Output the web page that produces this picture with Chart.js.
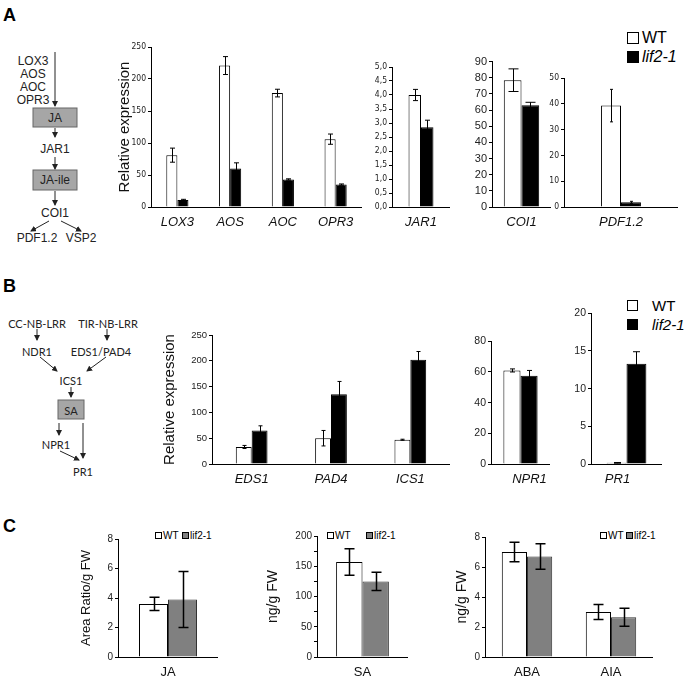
<!DOCTYPE html>
<html>
<head>
<meta charset="utf-8">
<script src="https://cdn.jsdelivr.net/npm/chart.js@4.4.0/dist/chart.umd.min.js"></script>
<style>
  body { margin: 0; width: 688px; height: 679px; background: #fff; position: relative; overflow: hidden;
         font-family: Arial, "Liberation Sans", sans-serif; color: #000; }
  .lg { position: absolute; white-space: nowrap; line-height: 1; color: #000; }
  .sq { position: absolute; box-sizing: border-box; border: 1px solid #000; }
</style>
</head>
<body>

<!-- pathway sketches and panel letters -->
<svg width="140" height="679" style="position:absolute;left:0;top:0">
  <defs>
    <marker id="ah" markerWidth="6" markerHeight="6" refX="5" refY="3" orient="auto" markerUnits="userSpaceOnUse">
      <path d="M0,0 L6,3 L0,6 z" fill="#222"/>
    </marker>
  </defs>
  <g font-family="Arial, Liberation Sans, sans-serif" font-weight="bold" font-size="18" fill="#000">
    <text x="3" y="21">A</text>
    <text x="3" y="292">B</text>
    <text x="3" y="532">C</text>
  </g>
  <!-- A: JA pathway -->
  <g font-family="Arial, Liberation Sans, sans-serif" font-size="12" fill="#222" text-anchor="middle" dominant-baseline="central">
    <text x="33" y="61">LOX3</text>
    <text x="33" y="74">AOS</text>
    <text x="33" y="87">AOC</text>
    <text x="33" y="100">OPR3</text>
    <rect x="33" y="108" width="44" height="19" fill="#a6a6a6" stroke="#666"/>
    <text x="55" y="118">JA</text>
    <text x="55" y="149">JAR1</text>
    <rect x="33" y="170" width="44" height="20" fill="#a6a6a6" stroke="#666"/>
    <text x="55" y="180">JA-ile</text>
    <text x="55" y="213">COI1</text>
    <text x="37" y="238">PDF1.2</text>
    <text x="81" y="238">VSP2</text>
  </g>
  <g stroke="#222" stroke-width="1" marker-end="url(#ah)">
    <line x1="55" y1="52" x2="55" y2="106"/>
    <line x1="55" y1="128" x2="55" y2="137"/>
    <line x1="55" y1="157" x2="55" y2="169"/>
    <line x1="55" y1="191" x2="55" y2="205"/>
    <line x1="49" y1="221" x2="31" y2="231"/>
    <line x1="61" y1="221" x2="81" y2="231"/>
  </g>
  <!-- B: SA pathway -->
  <g font-family="Lato, 'Open Sans', sans-serif" font-size="11" fill="#222" text-anchor="middle" dominant-baseline="central">
    <text x="37" y="323">CC-NB-LRR</text>
    <text x="108" y="323">TIR-NB-LRR</text>
    <text x="37" y="351">NDR1</text>
    <text x="101" y="351">EDS1/PAD4</text>
    <text x="71" y="380">ICS1</text>
    <rect x="58" y="400" width="26" height="19" fill="#a6a6a6" stroke="#666"/>
    <text x="71" y="410">SA</text>
    <text x="56" y="444">NPR1</text>
    <text x="83" y="471">PR1</text>
  </g>
  <g stroke="#222" stroke-width="1" marker-end="url(#ah)">
    <line x1="37" y1="329" x2="37" y2="340"/>
    <line x1="107" y1="329" x2="107" y2="340"/>
    <line x1="40" y1="357" x2="57" y2="371"/>
    <line x1="106" y1="357" x2="87" y2="371"/>
    <line x1="71" y1="387" x2="71" y2="397"/>
    <line x1="59" y1="423" x2="59" y2="435"/>
    <line x1="83" y1="423" x2="83" y2="458"/>
    <line x1="60" y1="451" x2="79" y2="460"/>
  </g>
</svg>

<!-- legends -->
<div class="sq" style="left:627px;top:32px;width:12px;height:12px;background:#fff"></div>
<div class="lg" style="left:642px;top:30px;font-size:16px">WT</div>
<div class="sq" style="left:627px;top:51px;width:12px;height:12px;background:#000"></div>
<div class="lg" style="left:642px;top:49px;font-size:16px;font-style:italic">lif2-1</div>

<div class="sq" style="left:627px;top:300px;width:11px;height:11px;background:#fff"></div>
<div class="lg" style="left:652px;top:298px;font-size:15px">WT</div>
<div class="sq" style="left:627px;top:319px;width:11px;height:11px;background:#000"></div>
<div class="lg" style="left:652px;top:317px;font-size:15px;font-style:italic">lif2-1</div>

<div class="sq" style="left:155px;top:532px;width:7px;height:7px;background:#fff"></div>
<div class="lg" style="left:163px;top:531px;font-size:10px">WT</div>
<div class="sq" style="left:182px;top:532px;width:7px;height:7px;background:#808080"></div>
<div class="lg" style="left:190px;top:531px;font-size:10px">lif2-1</div>

<div class="sq" style="left:327px;top:532px;width:7px;height:7px;background:#fff"></div>
<div class="lg" style="left:335px;top:531px;font-size:10px">WT</div>
<div class="sq" style="left:366px;top:532px;width:7px;height:7px;background:#808080"></div>
<div class="lg" style="left:374px;top:531px;font-size:10px">lif2-1</div>

<div class="sq" style="left:600px;top:532px;width:7px;height:7px;background:#fff"></div>
<div class="lg" style="left:608px;top:531px;font-size:10px">WT</div>
<div class="sq" style="left:626px;top:532px;width:7px;height:7px;background:#808080"></div>
<div class="lg" style="left:634px;top:531px;font-size:10px">lif2-1</div>

<script>
// ---- A: JA pathway genes (relative expression)
const aGenes = ['LOX3', 'AOS', 'AOC', 'OPR3'];
const aWT = [81, 221, 178, 106];
const aWTErr = [11, 14, 6, 8];
const aMut = [11, 60, 43, 35];
const aMutErr = [1, 9, 1, 1];

const jar1Label = ['JAR1'];
const jar1WT = [4.0], jar1WTErr = [0.2];
const jar1Mut = [2.85], jar1MutErr = [0.25];

const coi1Label = ['COI1'];
const coi1WT = [78.5], coi1WTErr = [7];
const coi1Mut = [63], coi1MutErr = [1.8];

const pdfLabel = ['PDF1.2'];
const pdfWT = [39.3], pdfWTErr = [6.3];
const pdfMut = [1.8], pdfMutErr = [0.4];

// ---- B: SA pathway genes
const bGenes = ['EDS1', 'PAD4', 'ICS1'];
const bWT = [33, 50, 47];
const bWTErr = [3, 15, 1];
const bMut = [65, 135, 202];
const bMutErr = [9, 25, 16];

const npr1Label = ['NPR1'];
const npr1WT = [61], npr1WTErr = [1];
const npr1Mut = [57.5], npr1MutErr = [3.5];

const pr1Label = ['PR1'];
const pr1WT = [0.15], pr1WTErr = [0.05];
const pr1Mut = [13.3], pr1MutErr = [1.6];

// ---- C: hormone contents
const jaLabel = ['JA'];
const jaWT = [3.6], jaWTErr = [0.45];
const jaMut = [3.9], jaMutErr = [1.9];

const saLabel = ['SA'];
const saWT = [157], saWTErr = [22];
const saMut = [125], saMutErr = [15];

const otherLabels = ['ABA', 'AIA'];
const otherWT = [7.0, 3.0], otherWTErr = [0.65, 0.5];
const otherMut = [6.7, 2.65], otherMutErr = [0.85, 0.6];

// error bars drawn on top of the bars
const errBars = {
  id: 'errBars',
  afterDatasetsDraw(chart, args, opts) {
    const ctx = chart.ctx;
    const y = chart.scales.y;
    ctx.save();
    ctx.strokeStyle = '#000';
    ctx.lineWidth = opts.width;
    chart.data.datasets.forEach((ds, i) => {
      chart.getDatasetMeta(i).data.forEach((bar, j) => {
        const e = ds.err[j];
        const v = ds.data[j];
        const x = Math.round(bar.x) + 0.5;
        const t = y.getPixelForValue(v + e);
        const b = y.getPixelForValue(Math.max(v - e, 0));
        const c = opts.cap / 2;
        ctx.beginPath();
        ctx.moveTo(x, t); ctx.lineTo(x, b);
        ctx.moveTo(x - c, t); ctx.lineTo(x + c, t);
        ctx.moveTo(x - c, b); ctx.lineTo(x + c, b);
        ctx.stroke();
      });
    });
    ctx.restore();
  }
};

const narrow = '"Liberation Sans Narrow", "DejaVu Sans Condensed", Arial, sans-serif';
const arial = 'Arial, "Liberation Sans", sans-serif';

function makeChart(c) {
  const left = c.axisX - c.yW;
  const top = c.topY - 8;
  const w = c.right - left;
  const h = c.base + c.xH - top;
  const cv = document.createElement('canvas');
  cv.width = w; cv.height = h;
  cv.style.cssText = `position:absolute;left:${left}px;top:${top}px;width:${w}px;height:${h}px`;
  document.body.appendChild(cv);

  const mutFill = c.gray ? '#808080' : '#000';
  const mutEdge = c.gray ? '#333' : '#000';

  new Chart(cv, {
    type: 'bar',
    data: {
      labels: c.labels,
      datasets: [
        { data: c.wt, err: c.wtErr, backgroundColor: '#fff', borderColor: '#000', borderWidth: 1,
          barPercentage: 1, categoryPercentage: c.cp },
        { data: c.mut, err: c.mutErr, backgroundColor: mutFill, borderColor: mutEdge, borderWidth: 1,
          barPercentage: 1, categoryPercentage: c.cp }
      ]
    },
    options: {
      responsive: false,
      animation: false,
      layout: { padding: { top: 8, right: 0, bottom: 0, left: 0 } },
      plugins: {
        legend: { display: false },
        tooltip: { enabled: false },
        errBars: { cap: c.cap, width: c.errW || 1 }
      },
      scales: {
        x: {
          grid: { display: false, drawTicks: false },
          border: { color: '#000', width: 1 },
          ticks: { color: '#111', padding: 8, maxRotation: 0, labelOffset: c.labelOffset || 0,
                   font: { family: arial, size: 13, style: c.italic ? 'italic' : 'normal' } },
          afterFit: s => { s.height = c.xH; }
        },
        y: {
          min: 0, max: c.max,
          border: { color: '#000', width: 1 },
          grid: { display: true, drawOnChartArea: false, drawTicks: true, tickLength: 3, color: '#000' },
          ticks: { stepSize: c.step, autoSkip: false, color: '#222', padding: 2,
                   font: { family: c.tickFamily || arial, size: c.tickSize },
                   callback: c.fmt || (v => v) },
          title: { display: !!c.title, text: c.title, color: '#111', padding: { top: 0, bottom: 0 },
                   font: { family: arial, size: c.titleSize || 15 } },
          afterFit: s => { s.width = c.yW; }
        }
      }
    },
    plugins: [errBars]
  });
}

// panel A
makeChart({ labels: aGenes, wt: aWT, wtErr: aWTErr, mut: aMut, mutErr: aMutErr,
  axisX: 151, topY: 47, base: 207, right: 362, yW: 35, xH: 30, max: 250, step: 50, cp: 0.42, cap: 5,
  tickFamily: narrow, tickSize: 8.5, italic: true, title: 'Relative expression', titleSize: 15 });
makeChart({ labels: jar1Label, wt: jar1WT, wtErr: jar1WTErr, mut: jar1Mut, mutErr: jar1MutErr,
  axisX: 392, topY: 67, base: 207, right: 450, yW: 26, xH: 30, max: 5, step: 0.5, cp: 0.43, cap: 5,
  tickFamily: narrow, tickSize: 8.5, italic: true, fmt: v => v.toFixed(1).replace('.', ',') });
makeChart({ labels: coi1Label, wt: coi1WT, wtErr: coi1WTErr, mut: coi1Mut, mutErr: coi1MutErr,
  axisX: 492, topY: 61, base: 207, right: 551, yW: 26, xH: 30, max: 90, step: 10, cp: 0.6, cap: 10,
  tickSize: 11, italic: true });
makeChart({ labels: pdfLabel, wt: pdfWT, wtErr: pdfWTErr, mut: pdfMut, mutErr: pdfMutErr,
  axisX: 564, topY: 78, base: 207, right: 678, yW: 20, xH: 30, max: 50, step: 10, cp: 0.35, cap: 3,
  tickFamily: narrow, tickSize: 8.5, italic: true });

// panel B
makeChart({ labels: bGenes, wt: bWT, wtErr: bWTErr, mut: bMut, mutErr: bMutErr,
  axisX: 212, topY: 335, base: 464, right: 450, yW: 51, xH: 30, max: 250, step: 50, cp: 0.4, cap: 4,
  tickSize: 9.5, italic: true, title: 'Relative expression', titleSize: 15 });
makeChart({ labels: npr1Label, wt: npr1WT, wtErr: npr1WTErr, mut: npr1Mut, mutErr: npr1MutErr,
  axisX: 491, topY: 341, base: 464, right: 550, yW: 26, xH: 30, max: 80, step: 20, cp: 0.58, cap: 5,
  tickSize: 10.5, italic: true, labelOffset: 9 });
makeChart({ labels: pr1Label, wt: pr1WT, wtErr: pr1WTErr, mut: pr1Mut, mutErr: pr1MutErr,
  axisX: 591, topY: 313, base: 464, right: 662, yW: 26, xH: 30, max: 20, step: 5, cp: 0.56, cap: 7,
  tickSize: 10.5, italic: true, labelOffset: -9 });

// panel C
makeChart({ labels: jaLabel, wt: jaWT, wtErr: jaWTErr, mut: jaMut, mutErr: jaMutErr, gray: true,
  axisX: 118, topY: 539, base: 657, right: 218, yW: 39, xH: 22, max: 8, step: 2, cp: 0.58, cap: 10, errW: 1.5,
  tickSize: 10, title: 'Area Ratio/g FW', titleSize: 13 });
makeChart({ labels: saLabel, wt: saWT, wtErr: saWTErr, mut: saMut, mutErr: saMutErr, gray: true,
  axisX: 317, topY: 536, base: 657, right: 408, yW: 52, xH: 22, max: 200, step: 25, cp: 0.58, cap: 10, errW: 1.5,
  tickSize: 10, title: 'ng/g FW', titleSize: 14, fmt: v => (v % 50 === 0 ? v : '') });
makeChart({ labels: otherLabels, wt: otherWT, wtErr: otherWTErr, mut: otherMut, mutErr: otherMutErr, gray: true,
  axisX: 485, topY: 537, base: 657, right: 653, yW: 31, xH: 22, max: 8, step: 2, cp: 0.6, cap: 10, errW: 1.5,
  tickSize: 10, title: 'ng/g FW', titleSize: 14 });
</script>
</body>
</html>
